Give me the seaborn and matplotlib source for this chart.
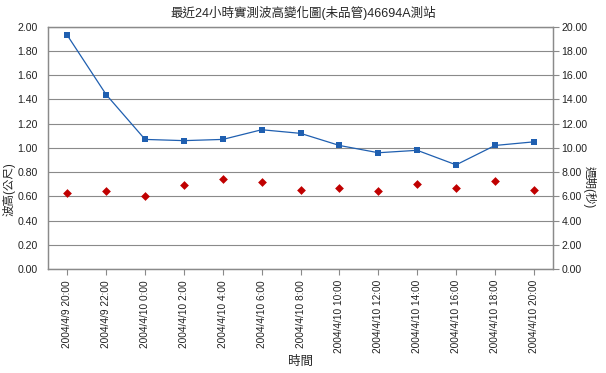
import matplotlib
matplotlib.use("Agg")
import matplotlib.pyplot as plt
import seaborn as sns
import pandas as pd
from matplotlib.ticker import FormatStrFormatter

times = ['2004/4/9 20:00', '2004/4/9 22:00', '2004/4/10 0:00', '2004/4/10 2:00',
         '2004/4/10 4:00', '2004/4/10 6:00', '2004/4/10 8:00', '2004/4/10 10:00',
         '2004/4/10 12:00', '2004/4/10 14:00', '2004/4/10 16:00', '2004/4/10 18:00',
         '2004/4/10 20:00']
wave_height = [1.93, 1.44, 1.07, 1.06, 1.07, 1.15, 1.12, 1.02, 0.96, 0.98, 0.86, 1.02, 1.05]
period = [6.3, 6.4, 6.0, 6.9, 7.4, 7.2, 6.5, 6.7, 6.4, 7.0, 6.7, 7.3, 6.5]

df = pd.DataFrame({'pos': range(len(times)), 'time': times,
                   'height': wave_height, 'period': period})

sns.set_style('white')
plt.rcParams['font.family'] = ['Liberation Sans', 'Noto Sans CJK TC']

fig = plt.figure(figsize=(6.06, 3.73), dpi=100)
ax = fig.add_axes([0.079, 0.279, 0.834, 0.649])
ax2 = ax.twinx()

# wave height: blue squares joined by a thin line
sns.lineplot(data=df, x='pos', y='height', ax=ax, color='#1f5fb0', linewidth=0.9,
             marker='s', markersize=5, markeredgewidth=0, zorder=3)
# period: red diamonds only
sns.scatterplot(data=df, x='pos', y='period', ax=ax2, color='#c00000', marker='D',
                s=20, linewidth=0, zorder=3)

ax.set_xlim(-0.5, len(times) - 0.5)
ax.set_ylim(0, 2.0)
ax2.set_ylim(0, 20.0)
ax.set_yticks([i * 0.2 for i in range(11)])
ax2.set_yticks([i * 2 for i in range(11)])
ax.yaxis.set_major_formatter(FormatStrFormatter('%.2f'))
ax2.yaxis.set_major_formatter(FormatStrFormatter('%.2f'))
ax.set_xticks(range(len(times)))
ax.set_xticklabels(times, rotation=90, fontsize=7.3)

ax.yaxis.grid(True, color='#8a8a8a', linewidth=0.8)
ax.set_axisbelow(True)
for a in (ax, ax2):
    for s in a.spines.values():
        s.set_color('#8a8a8a')
        s.set_linewidth(0.9)

ax.tick_params(axis='x', bottom=True, length=4, color='#8a8a8a', pad=4, labelcolor='#222222')
ax.tick_params(axis='y', left=False, labelsize=7.6, pad=4, labelcolor='#222222')
ax2.tick_params(axis='y', right=True, length=4, color='#8a8a8a', labelsize=7.6, pad=2,
                labelcolor='#222222')

ax.set_xlabel('時間', fontsize=9, labelpad=2)
ax.set_ylabel('波高(公尺)', fontsize=8.3)
ax.yaxis.set_label_coords(-0.064, 0.33)
ax2.set_ylabel('週期(秒)', fontsize=8.3, rotation=-90)
ax2.yaxis.set_label_coords(1.084, 0.34)
fig.suptitle('最近24小時實測波高變化圖(未品管)46694A測站', fontsize=9, y=0.985)

fig.savefig('out.png', dpi=100)
